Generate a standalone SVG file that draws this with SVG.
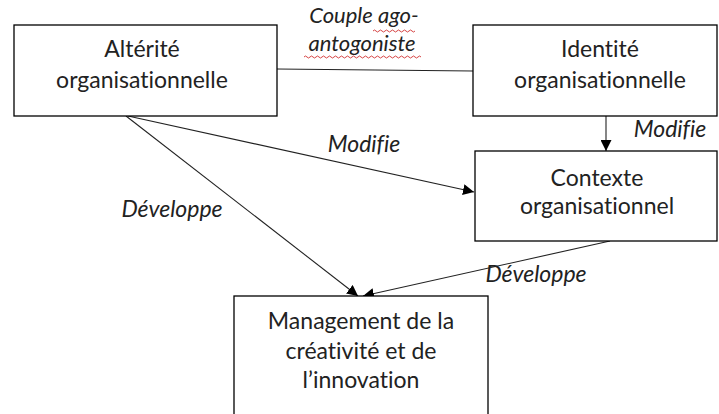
<svg xmlns="http://www.w3.org/2000/svg" width="719" height="414" viewBox="0 0 719 414">
<style>
.box{fill:#fff;stroke:#000;stroke-width:1.3}
.t{font-family:Lato,"Open Sans",sans-serif;font-size:23px;fill:#222;text-anchor:middle;font-variant-ligatures:none}
.lbl{font-family:Lato,"Open Sans",sans-serif;font-size:23px;font-style:italic;fill:#222;text-anchor:middle;font-variant-ligatures:none}
.sm{font-size:22px}
.c{stroke:#222;stroke-width:1.1;fill:none}
.wave{stroke:#d03030;stroke-width:0.9;fill:none}
</style>
<defs>
<marker id="ah" viewBox="0 0 10 10" refX="10" refY="5" markerWidth="11" markerHeight="11" markerUnits="userSpaceOnUse" orient="auto">
<path d="M0,0 L10,5 L0,10 z" fill="#000"/>
</marker>
</defs>
<rect width="719" height="414" fill="#fff"/>
<g id="connectors">
<line class="c" x1="277" y1="69" x2="473" y2="71"/>
<line class="c" x1="606" y1="116" x2="606" y2="151" marker-end="url(#ah)"/>
<line class="c" x1="128" y1="116" x2="474" y2="192" marker-end="url(#ah)"/>
<line class="c" x1="126" y1="116" x2="358" y2="296" marker-end="url(#ah)"/>
<line class="c" x1="610" y1="241" x2="363" y2="296" marker-end="url(#ah)"/>
<text class="lbl sm" x="364" y="23">Couple ago-</text>
<text class="lbl sm" x="362" y="51">antogoniste</text>
<path class="wave" d="M373,31 q1.5,-2 3,0 t3,0 t3,0 t3,0 t3,0 t3,0 t3,0 t3,0 t3,0 t3,0 t3,0 t3,0 t3,0 t3,0"/>
<path class="wave" d="M304,57 q1.5,-2 3,0 t3,0 t3,0 t3,0 t3,0 t3,0 t3,0 t3,0 t3,0 t3,0 t3,0 t3,0 t3,0 t3,0 t3,0 t3,0 t3,0 t3,0 t3,0 t3,0 t3,0 t3,0 t3,0 t3,0 t3,0 t3,0 t3,0 t3,0 t3,0 t3,0 t3,0 t3,0 t3,0 t3,0 t3,0 t3,0 t3,0 t3,0 t3,0"/>
<text class="lbl" x="364" y="152">Modifie</text>
<text class="lbl" x="670" y="137">Modifie</text>
<text class="lbl" x="172" y="217">Développe</text>
<text class="lbl" x="536" y="282">Développe</text>
</g>
<g id="alterite">
<rect class="box" x="14" y="25" width="263" height="91"/>
<text class="t" x="142" y="57">Altérité</text>
<text class="t" x="142" y="88">organisationnelle</text>
</g>
<g id="identite">
<rect class="box" x="473" y="25" width="244" height="91"/>
<text class="t" x="600" y="57">Identité</text>
<text class="t" x="600" y="88">organisationnelle</text>
</g>
<g id="contexte">
<rect class="box" x="475" y="151" width="242" height="90"/>
<text class="t" x="597" y="186">Contexte</text>
<text class="t" x="597" y="214">organisationnel</text>
</g>
<g id="management">
<rect class="box" x="234" y="296" width="254" height="130"/>
<text class="t" x="361" y="329">Management de la</text>
<text class="t" x="361" y="359">créativité et de</text>
<text class="t" x="361" y="388">l’innovation</text>
</g>
</svg>
